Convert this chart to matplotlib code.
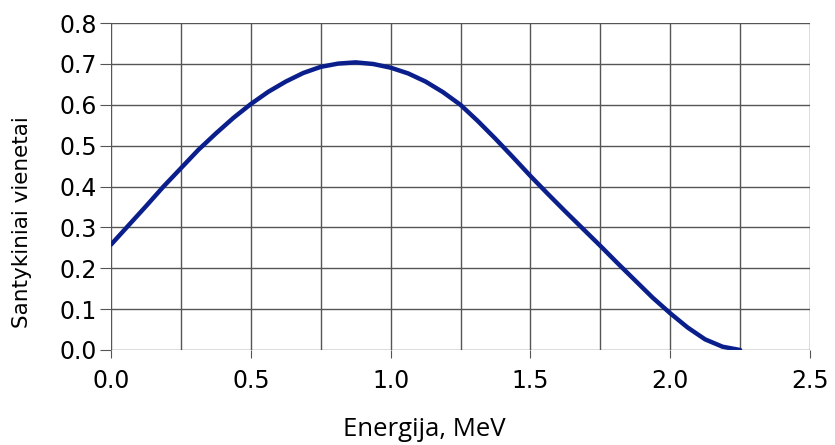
import matplotlib.pyplot as plt

energy = [0.0, 0.0625, 0.125, 0.1875, 0.25, 0.3125, 0.375, 0.4375, 0.5, 0.5625,
          0.625, 0.6875, 0.75, 0.8125, 0.875, 0.9375, 1.0, 1.0625, 1.125, 1.1875,
          1.25, 1.3125, 1.375, 1.4375, 1.5, 1.5625, 1.625, 1.6875, 1.75, 1.8125,
          1.875, 1.9375, 2.0, 2.0625, 2.125, 2.1875, 2.25]
intensity = [0.258, 0.305, 0.352, 0.40, 0.445, 0.49, 0.53, 0.568, 0.602, 0.632,
             0.657, 0.678, 0.693, 0.701, 0.704, 0.700, 0.691, 0.677, 0.657, 0.631,
             0.600, 0.560, 0.517, 0.472, 0.426, 0.382, 0.339, 0.297, 0.255, 0.212,
             0.170, 0.128, 0.090, 0.055, 0.026, 0.008, 0.0]

xticks = [0.0, 0.5, 1.0, 1.5, 2.0, 2.5]
yticks = [0.0, 0.1, 0.2, 0.3, 0.4, 0.5, 0.6, 0.7, 0.8]

fig = plt.figure(figsize=(8.35, 4.45), dpi=100)
ax = fig.add_axes([0.133, 0.2135, 0.837, 0.7345])

ax.plot(energy, intensity, color='#0b1f8c', lw=3.2, solid_capstyle='round',
        solid_joinstyle='round', zorder=3)

ax.set_xlim(0, 2.5)
ax.set_ylim(0, 0.8)
ax.set_xticks(xticks)
ax.set_xticks([0.25, 0.75, 1.25, 1.75, 2.25], minor=True)
ax.set_yticks(yticks)
ax.set_xticklabels(['%.1f' % t for t in xticks], fontsize=17)
ax.set_yticklabels(['%.1f' % t for t in yticks], fontsize=17)
ax.grid(True, which='both', color='#555555', lw=1.0)
ax.tick_params(axis='x', which='major', length=6, color='#555555', pad=8)
ax.tick_params(axis='x', which='minor', length=0)
ax.tick_params(axis='y', length=8, color='#555555', pad=2)
for s in ax.spines.values():
    s.set_visible(False)

fig.text(0.026, 0.5, 'Santykiniai vienetai', rotation=90, ha='center', va='center', fontsize=15.5)
fig.text(0.508, 0.034, 'Energija, MeV', ha='center', va='center', fontsize=18.5, family='Open Sans')

fig.savefig('out.png', dpi=100)
